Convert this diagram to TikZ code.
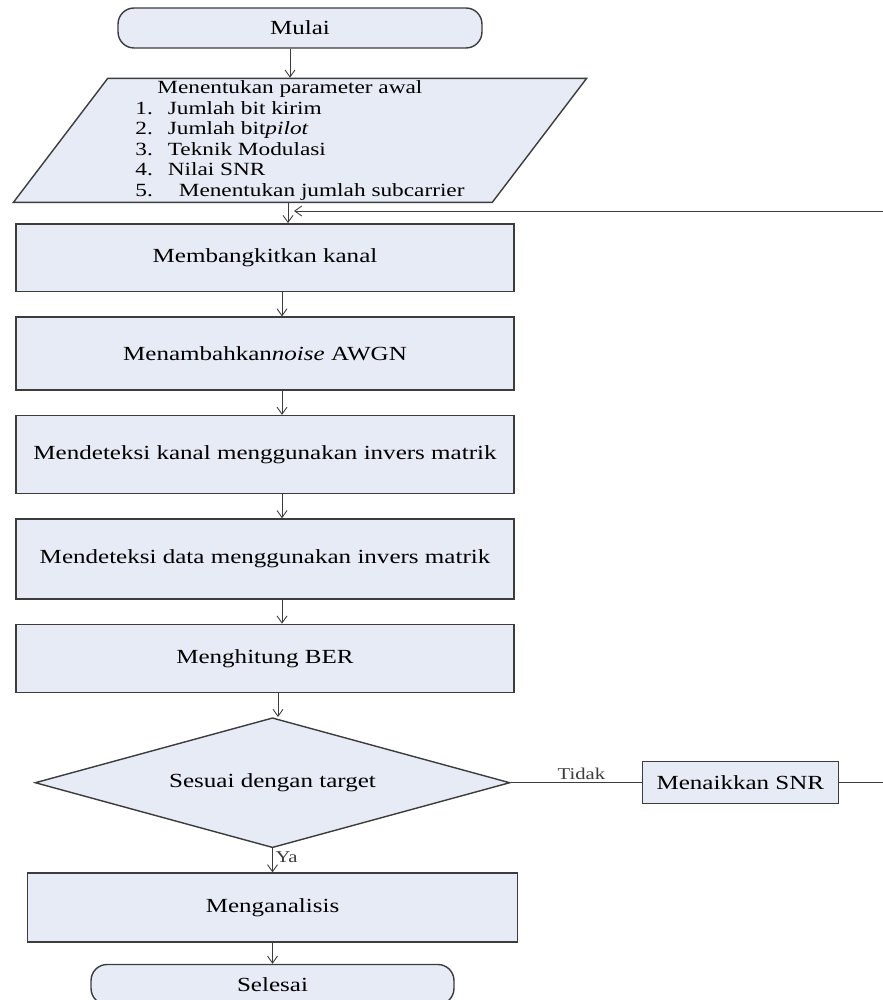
\documentclass[tikz,border=0pt]{standalone}
\usepackage{fontspec}
\setmainfont[FakeStretch=1.25]{Liberation Serif}
\usepackage{tikz}
\usetikzlibrary{shapes.geometric,arrows.meta,positioning}
\definecolor{boxfill}{RGB}{230,235,246}
\definecolor{edgegrey}{RGB}{60,60,60}

\begin{document}
\begin{tikzpicture}[
  x=0.02cm, y=-0.02cm,
  node distance=0.48cm and 2.62cm,
  base/.style={draw=edgegrey, line width=0.8pt, fill=boxfill, inner sep=0pt,
    font=\fontsize{11.4}{13}\selectfont},
  term/.style={base, rectangle, rounded corners=0.32cm,
    minimum width=7.28cm, minimum height=0.8cm},
  io/.style={base, trapezium, trapezium left angle=56, trapezium right angle=124,
    trapezium stretches=true, minimum width=11.5cm, minimum height=2.48cm,
    align=left, font=\fontsize{10.6}{11.7}\selectfont},
  proc/.style={base, rectangle, minimum width=9.96cm},
  cond/.style={base, diamond, aspect=3.65, minimum width=9.5cm, minimum height=2.6cm},
  arw/.style={-{Straight Barb[length=1.4mm,width=2mm]}, line width=0.5pt, edgegrey},
  lin/.style={line width=0.5pt, edgegrey},
  lab/.style={font=\fontsize{9.4}{10}\selectfont, inner sep=1.5pt},
]
  \useasboundingbox (0,0) rectangle (882,1000);

  \node[term] (start) at (300,28) {Mulai};
  \node[io, below=0.58cm of start] (par)
    {\hspace*{0.44cm}Menentukan parameter awal\\
     1.\hspace{0.3cm}Jumlah bit kirim\\
     2.\hspace{0.3cm}Jumlah bit\textit{pilot}\\
     3.\hspace{0.3cm}Teknik Modulasi\\
     4.\hspace{0.3cm}Nilai SNR\\
     5.\hspace{0.52cm}Menentukan jumlah subcarrier};
  \node[proc, minimum height=1.36cm, below=0.4cm of par, xshift=-0.7cm] (gen) {Membangkitkan kanal};
  \node[proc, minimum height=1.46cm, below=of gen] (noise) {Menambahkan\textit{noise} AWGN};
  \node[proc, minimum height=1.56cm, below=of noise] (estH) {Mendeteksi kanal menggunakan invers matrik};
  \node[proc, minimum height=1.6cm, below=of estH] (estD) {Mendeteksi data menggunakan invers matrik};
  \node[proc, minimum height=1.36cm, below=of estD] (ber) {Menghitung BER};
  \node[cond, below=of ber, xshift=0.15cm] (cek) {Sesuai dengan target};
  \node[proc, minimum width=3.92cm, minimum height=0.84cm, right=of cek] (snr) {Menaikkan SNR};
  \node[proc, minimum width=9.8cm, minimum height=1.38cm, below=of cek] (ana) {Menganalisis};
  \node[term, minimum width=7.26cm, below=0.42cm of ana] (stop) {Selesai};
  \coordinate (back) at (294,211);

  \draw[arw] ([xshift=-0.2cm]start.south) -- ([xshift=-0.2cm]start.south |- par.north);
  \draw[arw] ([xshift=-0.24cm]par.south) -- ([xshift=-0.24cm]par.south |- gen.north);
  \foreach \a/\b in {gen/noise, noise/estH, estH/estD, estD/ber}
    \draw[arw] ([xshift=0.34cm]\a.south) -- ([xshift=0.34cm]\b.north);
  \draw[arw] ([xshift=0.26cm]ber.south) -- ([xshift=0.26cm]ber.south |- cek.north);
  \draw[lin] (cek.east) -- (snr.west) node[pos=0.54, above, lab] {Tidak};
  \draw[arw] (snr.east) -- ++(2cm,0) |- (back);
  \draw[arw] (cek.south) -- (cek.south |- ana.north) node[pos=0.35, right, lab] {Ya};
  \draw[arw] (ana.south) -- (ana.south |- stop.north);
\end{tikzpicture}
\end{document}
